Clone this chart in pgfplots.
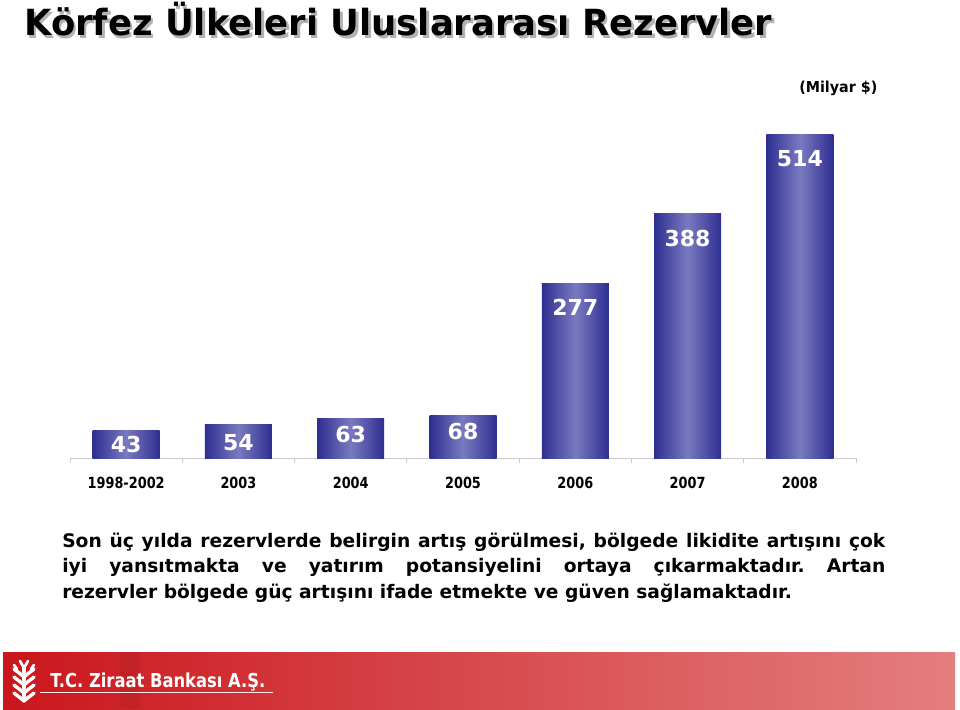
\documentclass[border=0pt]{standalone}
\usepackage{pgfplots}
\pgfplotsset{compat=1.18}
\usepackage{graphicx}
\usepackage{fontspec}
\setmainfont{DejaVu Sans}
\newfontfamily\condb{DejaVu Sans}[FakeStretch=0.84]
\definecolor{barEdge}{RGB}{46,46,146}
\definecolor{barMid}{RGB}{122,122,192}
\definecolor{redA}{RGB}{202,22,28}
\definecolor{redB}{RGB}{213,82,84}
\definecolor{redC}{RGB}{228,126,127}
\frenchspacing

\newcommand{\titletext}{\resizebox{561pt}{\height}{\fontsize{27pt}{30pt}\selectfont\bfseries K\"orfez \"Ulkeleri Uluslararas\i{} Rezervler}}

\pgfplotsset{
  shadedbar/.style={ybar, bar shift=0pt, bar width=50.25pt, draw=none,
    left color=barEdge, right color=barEdge, middle color=barMid,
    nodes near coords,
    nodes near coords style={anchor=north, inner sep=0pt, text=white,
      font={\bfseries\fontsize{16.5pt}{18pt}\selectfont}, yshift={-#1*0.75pt}}},
}

\begin{document}
\begin{tikzpicture}
\useasboundingbox (0,0) rectangle (720pt,-532.5pt);
\begin{axis}[
  at={(52.5pt,-343.5pt)}, anchor=south west,
  scale only axis, width=589.5pt, height=247.5pt,
  xmin=-0.5, xmax=6.5, ymin=0, ymax=524.7,
  axis x line*=bottom, hide y axis,
  axis line style={draw=black!20, line width=0.75pt},
  xtick={0,...,6},
  xticklabels={1998-2002,2003,2004,2005,2006,2007,2008},
  major tick length=0pt,
  minor xtick={-0.5,0.5,...,6.5},
  minor tick length=3.75pt, tick align=outside,
  minor tick style={draw=black!20, line width=0.75pt},
  xticklabel style={font={\condb\bfseries\fontsize{11.5pt}{12pt}\selectfont}, inner sep=0pt, anchor=north},
  xticklabel shift=14pt,
  ytick=\empty,
  clip=false,
  /pgf/number format/assume math mode=true,
]
\addplot[shadedbar=5]  coordinates {(0,43)};
\addplot[shadedbar=10] coordinates {(1,54)};
\addplot[shadedbar=8]  coordinates {(2,63)};
\addplot[shadedbar=8]  coordinates {(3,68)};
\addplot[shadedbar=15] coordinates {(4,277)};
\addplot[shadedbar=16] coordinates {(5,388)};
\addplot[shadedbar=15] coordinates {(6,514)};
\end{axis}

\begin{scope}[x=0.75pt, y=-0.75pt]
  % title with shadow (one text node)
  \node[anchor=base west, inner sep=0pt, text=black] at (24,36)
    {\rlap{\kern1.9pt\raisebox{-1.9pt}{\color{black!30}\titletext}}\titletext};
  % unit
  \node[anchor=base west, inner sep=0pt] at (799,93) {\resizebox{58.5pt}{\height}{\fontsize{11.3pt}{13pt}\selectfont\bfseries (Milyar \$)}};
  % paragraph
  \begin{scope}[every node/.style={anchor=base west, inner sep=0pt, font={\fontsize{14pt}{16pt}\selectfont\bfseries}}]
    \node at (62,547) {\makebox[617.25pt][s]{Son üç yılda rezervlerde belirgin artış görülmesi, bölgede likidite artışını çok}};
    \node at (62,572.5) {\makebox[617.25pt][s]{iyi yansıtmakta ve yatırım potansiyelini ortaya çıkarmaktadır. Artan}};
    \node at (62,598) {rezervler bölgede güç artışını ifade etmekte ve güven sağlamaktadır.};
  \end{scope}
  % footer band
  \shade[left color=redA, middle color=redB, right color=redC] (3,652) rectangle (955,709);
  \fill[black, opacity=0.05] (120,652) rectangle (140,709);
  % logo (approximation)
  \begin{scope}[white, line width=2.6pt, line cap=round]
    \draw (24,668) -- (24,701);
    \foreach \yy in {676,684,692,700} {
      \draw (23,\yy) -- (14,\yy-7);
      \draw (25,\yy) -- (34,\yy-7);
    }
    \draw[line width=2pt] (20,661) -- (24,668) -- (28,661);
    \draw[line width=2pt] (14,665) -- (17,669);
    \draw[line width=2pt] (34,665) -- (31,669);
  \end{scope}
  \node[anchor=base west, inner sep=0pt, text=white] at (50,687) {\resizebox{161.25pt}{\height}{\fontsize{14.4pt}{16pt}\selectfont\bfseries T.C. Ziraat Bankası A.Ş.}};
  \draw[white!92!red, line width=0.9pt] (40,692.5) -- (273,692.5);
\end{scope}
\end{tikzpicture}
\end{document}
